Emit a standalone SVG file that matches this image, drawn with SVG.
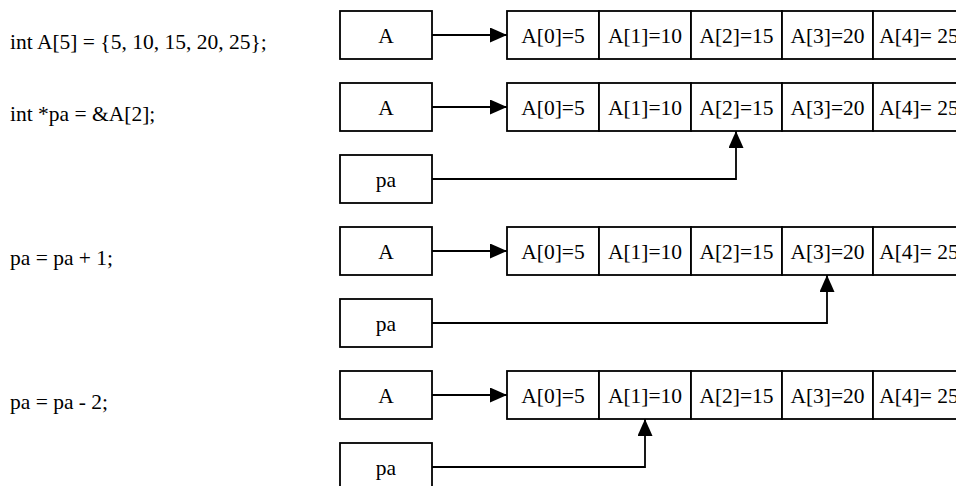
<svg xmlns="http://www.w3.org/2000/svg" width="956" height="486" viewBox="0 0 956 486">
<style>
text{font-family:"Liberation Serif","Times New Roman",serif;font-size:21.5px;fill:#000}
.c{text-anchor:middle}
.b{fill:#fff;stroke:#000;stroke-width:1.8}
.l{fill:none;stroke:#000;stroke-width:1.8}
</style>
<defs>
<marker id="ah" markerUnits="userSpaceOnUse" markerWidth="17" markerHeight="15" refX="17" refY="7.5" orient="auto">
<path d="M0,0 L17,7.5 L0,15 z" fill="#000"/>
</marker>
</defs>
<rect width="956" height="486" fill="#fff"/>
<g id="code">
<text x="10" y="49">int A[5] = {5, 10, 15, 20, 25};</text>
<text x="10" y="121">int *pa = &amp;A[2];</text>
<text x="10" y="265">pa = pa + 1;</text>
<text x="10" y="409">pa = pa - 2;</text>
</g>
<g id="row1">
<g id="A1"><rect class="b" x="340" y="11" width="92" height="48"/><text class="c" x="386" y="42.5">A</text></g>
<g id="arr1">
<rect class="b" x="507" y="11" width="92" height="48"/><text class="c" x="553" y="42.5">A[0]=5</text>
<rect class="b" x="599" y="11" width="92" height="48"/><text class="c" x="645" y="42.5">A[1]=10</text>
<rect class="b" x="691" y="11" width="91" height="48"/><text class="c" x="736.5" y="42.5">A[2]=15</text>
<rect class="b" x="782" y="11" width="91" height="48"/><text class="c" x="827.5" y="42.5">A[3]=20</text>
<rect class="b" x="873" y="11" width="92" height="48"/><text class="c" x="919" y="42.5">A[4]= 25</text>
</g>
</g>
<g id="row2">
<g id="A2"><rect class="b" x="340" y="83" width="92" height="48"/><text class="c" x="386" y="114.5">A</text></g>
<g id="arr2">
<rect class="b" x="507" y="83" width="92" height="48"/><text class="c" x="553" y="114.5">A[0]=5</text>
<rect class="b" x="599" y="83" width="92" height="48"/><text class="c" x="645" y="114.5">A[1]=10</text>
<rect class="b" x="691" y="83" width="91" height="48"/><text class="c" x="736.5" y="114.5">A[2]=15</text>
<rect class="b" x="782" y="83" width="91" height="48"/><text class="c" x="827.5" y="114.5">A[3]=20</text>
<rect class="b" x="873" y="83" width="92" height="48"/><text class="c" x="919" y="114.5">A[4]= 25</text>
</g>
<g id="pa2"><rect class="b" x="340" y="155" width="92" height="48"/><text class="c" x="386" y="186.5">pa</text></g>
</g>
<g id="row3">
<g id="A3"><rect class="b" x="340" y="227" width="92" height="48"/><text class="c" x="386" y="258.5">A</text></g>
<g id="arr3">
<rect class="b" x="507" y="227" width="92" height="48"/><text class="c" x="553" y="258.5">A[0]=5</text>
<rect class="b" x="599" y="227" width="92" height="48"/><text class="c" x="645" y="258.5">A[1]=10</text>
<rect class="b" x="691" y="227" width="91" height="48"/><text class="c" x="736.5" y="258.5">A[2]=15</text>
<rect class="b" x="782" y="227" width="91" height="48"/><text class="c" x="827.5" y="258.5">A[3]=20</text>
<rect class="b" x="873" y="227" width="92" height="48"/><text class="c" x="919" y="258.5">A[4]= 25</text>
</g>
<g id="pa3"><rect class="b" x="340" y="299" width="92" height="48"/><text class="c" x="386" y="330.5">pa</text></g>
</g>
<g id="row4">
<g id="A4"><rect class="b" x="340" y="371" width="92" height="48"/><text class="c" x="386" y="402.5">A</text></g>
<g id="arr4">
<rect class="b" x="507" y="371" width="92" height="48"/><text class="c" x="553" y="402.5">A[0]=5</text>
<rect class="b" x="599" y="371" width="92" height="48"/><text class="c" x="645" y="402.5">A[1]=10</text>
<rect class="b" x="691" y="371" width="91" height="48"/><text class="c" x="736.5" y="402.5">A[2]=15</text>
<rect class="b" x="782" y="371" width="91" height="48"/><text class="c" x="827.5" y="402.5">A[3]=20</text>
<rect class="b" x="873" y="371" width="92" height="48"/><text class="c" x="919" y="402.5">A[4]= 25</text>
</g>
<g id="pa4"><rect class="b" x="340" y="443" width="92" height="48"/><text class="c" x="386" y="474.5">pa</text></g>
</g>
<g id="connectors">
<path class="l" d="M432,35 H507" marker-end="url(#ah)"/>
<path class="l" d="M432,107 H507" marker-end="url(#ah)"/>
<path class="l" d="M432,251 H507" marker-end="url(#ah)"/>
<path class="l" d="M432,395 H507" marker-end="url(#ah)"/>
<path class="l" d="M432,179 H736 V131" marker-end="url(#ah)"/>
<path class="l" d="M432,323 H827 V275" marker-end="url(#ah)"/>
<path class="l" d="M432,467 H645 V419" marker-end="url(#ah)"/>
</g>
</svg>
